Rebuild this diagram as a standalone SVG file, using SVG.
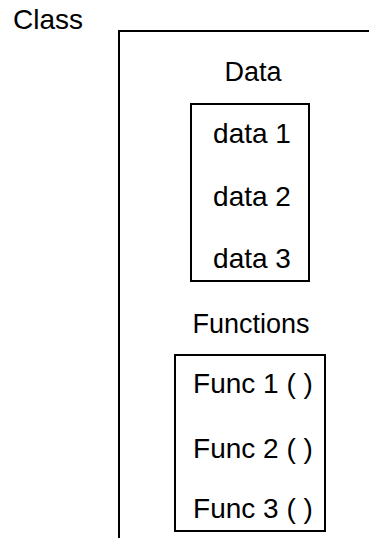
<svg xmlns="http://www.w3.org/2000/svg" width="369" height="538" viewBox="0 0 369 538">
  <style>
    text { font-family: "Liberation Sans", Arial, sans-serif; font-size: 28px; fill: #000; }
    .mid { text-anchor: middle; }
    .head { font-size: 27px; }
    .frame { fill: none; stroke: #000; stroke-width: 2; }
  </style>
  <rect width="369" height="538" fill="#fff"/>

  <!-- outer class frame -->
  <g id="class">
    <text x="13" y="29">Class</text>
    <polyline class="frame" points="119,538 119,31 369,31"/>
  </g>

  <!-- data members -->
  <g id="data">
    <text class="mid head" x="253" y="81">Data</text>
    <rect class="frame" x="191" y="104" width="118" height="177"/>
    <text class="mid" x="252" y="143">data 1</text>
    <text class="mid" x="252" y="206">data 2</text>
    <text class="mid" x="252" y="268">data 3</text>
  </g>

  <!-- member functions -->
  <g id="functions">
    <text class="mid head" x="251" y="333">Functions</text>
    <rect class="frame" x="175" y="355" width="150" height="176"/>
    <text class="mid" x="253" y="393">Func 1 ( )</text>
    <text class="mid" x="253" y="458">Func 2 ( )</text>
    <text class="mid" x="253" y="518">Func 3 ( )</text>
  </g>
  <g id="connectors"/>
</svg>
